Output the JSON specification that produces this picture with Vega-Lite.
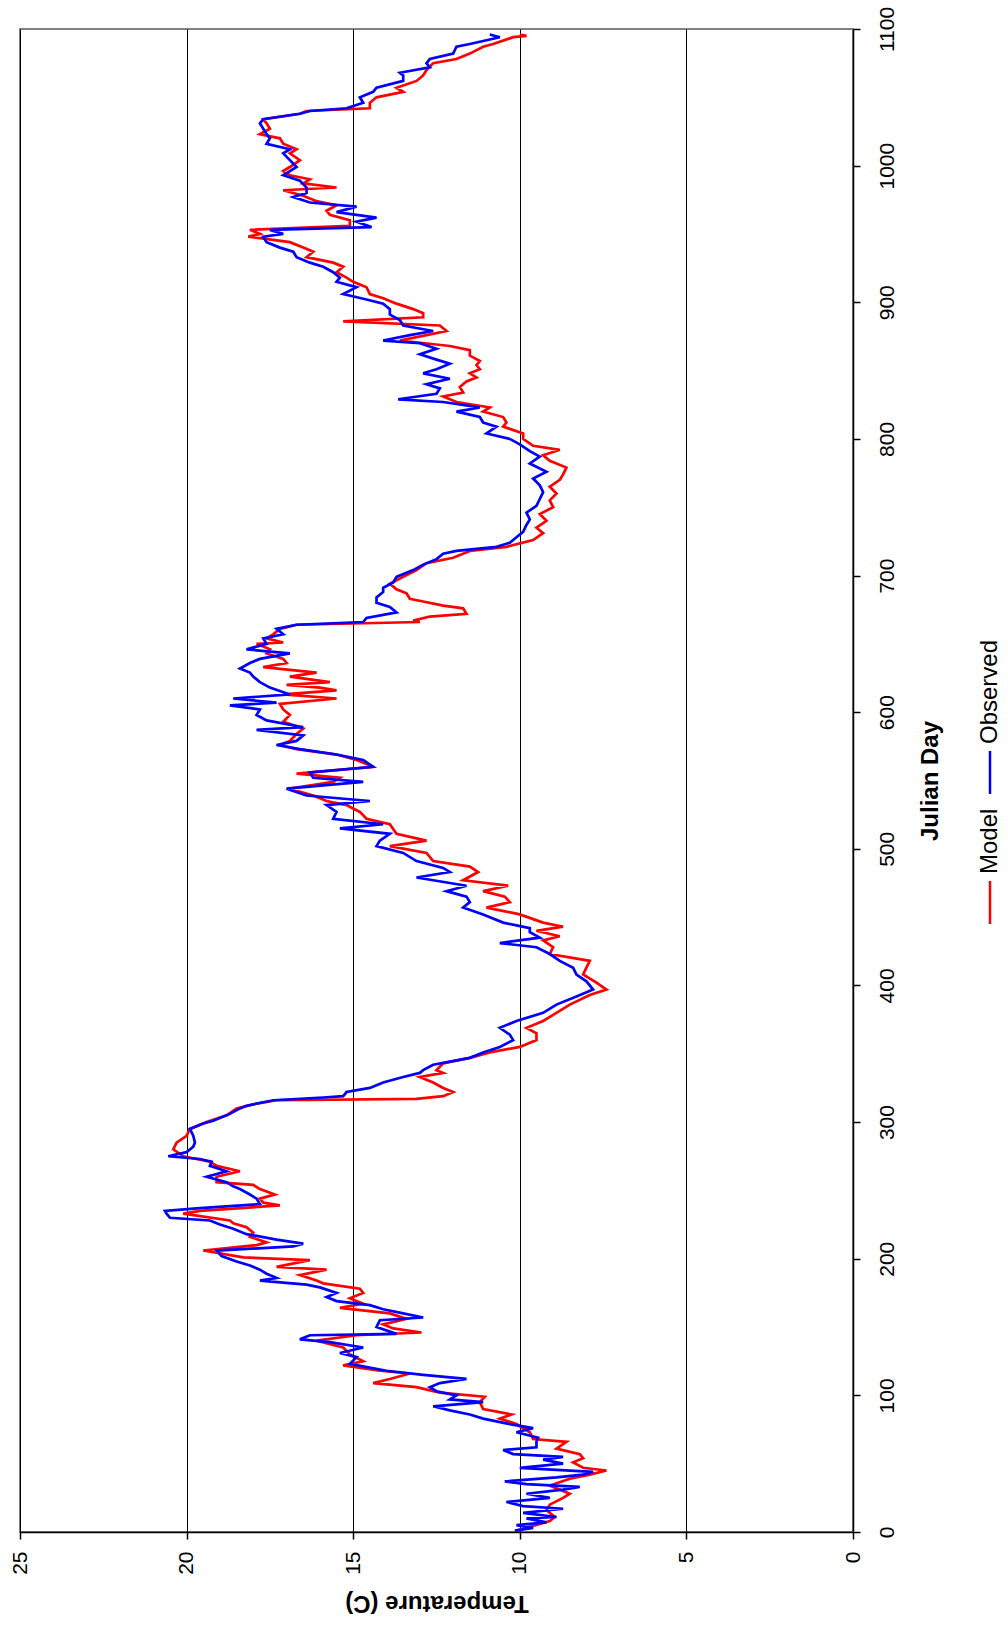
{
  "$schema": "https://vega.github.io/schema/vega-lite/v6.json",
  "padding": {"left": 8, "top": 5, "right": 0, "bottom": 0},
  "bounds": "flush",
  "spacing": 122,
  "config": {
    "font": "Liberation Sans",
    "view": {"stroke": "#808080", "strokeWidth": 2},
    "axis": {"labelColor": "#000000", "titleColor": "#000000", "domainColor": "#000000", "tickColor": "#000000", "labelOverlap": false}
  },
  "hconcat": [
    {
      "width": 833,
      "height": 1503,
      "data": {"values": [
        {"series":"Model","day":1,"temp":10.1},{"series":"Model","day":8,"temp":9.1},{"series":"Model","day":11,"temp":8.95},{"series":"Model","day":16,"temp":9.2},{"series":"Model","day":20,"temp":9.1},{"series":"Model","day":25,"temp":8.7},{"series":"Model","day":28,"temp":8.5},{"series":"Model","day":34,"temp":9.1},{"series":"Model","day":39,"temp":8.5},{"series":"Model","day":42,"temp":7.9},{"series":"Model","day":45,"temp":7.4},{"series":"Model","day":47,"temp":8.1},{"series":"Model","day":51,"temp":8.4},{"series":"Model","day":54,"temp":8.1},{"series":"Model","day":57,"temp":8.2},{"series":"Model","day":61,"temp":8.9},{"series":"Model","day":66,"temp":8.6},{"series":"Model","day":68,"temp":9.6},{"series":"Model","day":73,"temp":9.7},{"series":"Model","day":79,"temp":10.1},{"series":"Model","day":83,"temp":10.6},{"series":"Model","day":86,"temp":10.25},{"series":"Model","day":90,"temp":11.1},{"series":"Model","day":95,"temp":11.2},{"series":"Model","day":99,"temp":11.05},{"series":"Model","day":102,"temp":12.4},{"series":"Model","day":106,"temp":13.1},{"series":"Model","day":109,"temp":14.4},{"series":"Model","day":112,"temp":13.9},{"series":"Model","day":116,"temp":13.3},{"series":"Model","day":118,"temp":14.2},{"series":"Model","day":122,"temp":15.3},{"series":"Model","day":125,"temp":14.7},{"series":"Model","day":130,"temp":15.1},{"series":"Model","day":135,"temp":15.3},{"series":"Model","day":140,"temp":16.1},{"series":"Model","day":144,"temp":14.9},{"series":"Model","day":146,"temp":12.95},{"series":"Model","day":149,"temp":13.8},{"series":"Model","day":152,"temp":14.1},{"series":"Model","day":156,"temp":13.4},{"series":"Model","day":160,"temp":13.9},{"series":"Model","day":164,"temp":15.4},{"series":"Model","day":167,"temp":14.7},{"series":"Model","day":171,"temp":15.1},{"series":"Model","day":175,"temp":14.7},{"series":"Model","day":178,"temp":14.8},{"series":"Model","day":182,"temp":15.9},{"series":"Model","day":184,"temp":16.1},{"series":"Model","day":188,"temp":16.6},{"series":"Model","day":192,"temp":15.8},{"series":"Model","day":194,"temp":17.3},{"series":"Model","day":199,"temp":16.3},{"series":"Model","day":201,"temp":18.3},{"series":"Model","day":206,"temp":19.5},{"series":"Model","day":210,"temp":17.9},{"series":"Model","day":212,"temp":17.6},{"series":"Model","day":216,"temp":18.1},{"series":"Model","day":219,"temp":18.0},{"series":"Model","day":223,"temp":18.2},{"series":"Model","day":226,"temp":18.6},{"series":"Model","day":228,"temp":18.7},{"series":"Model","day":233,"temp":20.1},{"series":"Model","day":235,"temp":19.6},{"series":"Model","day":239,"temp":17.2},{"series":"Model","day":241,"temp":17.7},{"series":"Model","day":244,"temp":17.8},{"series":"Model","day":247,"temp":17.35},{"series":"Model","day":251,"temp":17.8},{"series":"Model","day":254,"temp":18.0},{"series":"Model","day":256,"temp":19.1},{"series":"Model","day":260,"temp":19.1},{"series":"Model","day":264,"temp":18.4},{"series":"Model","day":268,"temp":19.1},{"series":"Model","day":271,"temp":19.3},{"series":"Model","day":275,"temp":20.1},{"series":"Model","day":280,"temp":20.4},{"series":"Model","day":285,"temp":20.3},{"series":"Model","day":290,"temp":20.0},{"series":"Model","day":295,"temp":19.9},{"series":"Model","day":300,"temp":19.4},{"series":"Model","day":305,"temp":18.8},{"series":"Model","day":310,"temp":18.5},{"series":"Model","day":313,"temp":18.0},{"series":"Model","day":316,"temp":17.3},{"series":"Model","day":317,"temp":13.1},{"series":"Model","day":319,"temp":12.3},{"series":"Model","day":322,"temp":12.0},{"series":"Model","day":325,"temp":12.3},{"series":"Model","day":329,"temp":12.6},{"series":"Model","day":333,"temp":13.0},{"series":"Model","day":336,"temp":12.3},{"series":"Model","day":338,"temp":12.5},{"series":"Model","day":343,"temp":12.3},{"series":"Model","day":347,"temp":11.5},{"series":"Model","day":351,"temp":10.9},{"series":"Model","day":355,"temp":10.0},{"series":"Model","day":360,"temp":9.5},{"series":"Model","day":365,"temp":9.5},{"series":"Model","day":369,"temp":9.8},{"series":"Model","day":374,"temp":9.3},{"series":"Model","day":380,"temp":8.9},{"series":"Model","day":386,"temp":8.5},{"series":"Model","day":393,"temp":7.9},{"series":"Model","day":397,"temp":7.4},{"series":"Model","day":402,"temp":7.7},{"series":"Model","day":408,"temp":8.1},{"series":"Model","day":413,"temp":8.0},{"series":"Model","day":418,"temp":7.9},{"series":"Model","day":423,"temp":9.1},{"series":"Model","day":428,"temp":9.0},{"series":"Model","day":433,"temp":9.3},{"series":"Model","day":436,"temp":8.8},{"series":"Model","day":440,"temp":9.5},{"series":"Model","day":443,"temp":8.7},{"series":"Model","day":446,"temp":9.3},{"series":"Model","day":452,"temp":10.0},{"series":"Model","day":457,"temp":11.0},{"series":"Model","day":461,"temp":10.3},{"series":"Model","day":465,"temp":10.45},{"series":"Model","day":469,"temp":11.1},{"series":"Model","day":473,"temp":10.35},{"series":"Model","day":477,"temp":11.7},{"series":"Model","day":483,"temp":11.25},{"series":"Model","day":487,"temp":11.5},{"series":"Model","day":491,"temp":12.6},{"series":"Model","day":497,"temp":12.8},{"series":"Model","day":502,"temp":13.9},{"series":"Model","day":506,"temp":12.8},{"series":"Model","day":511,"temp":13.7},{"series":"Model","day":518,"temp":13.9},{"series":"Model","day":522,"temp":14.6},{"series":"Model","day":527,"temp":14.8},{"series":"Model","day":532,"temp":15.2},{"series":"Model","day":535,"temp":15.8},{"series":"Model","day":539,"temp":16.2},{"series":"Model","day":544,"temp":16.9},{"series":"Model","day":549,"temp":15.6},{"series":"Model","day":552,"temp":15.4},{"series":"Model","day":555,"temp":16.7},{"series":"Model","day":560,"temp":14.4},{"series":"Model","day":565,"temp":14.9},{"series":"Model","day":569,"temp":15.5},{"series":"Model","day":573,"temp":16.7},{"series":"Model","day":576,"temp":17.2},{"series":"Model","day":579,"temp":16.9},{"series":"Model","day":584,"temp":16.7},{"series":"Model","day":588,"temp":16.5},{"series":"Model","day":593,"temp":17.1},{"series":"Model","day":598,"temp":16.9},{"series":"Model","day":602,"temp":17.1},{"series":"Model","day":606,"temp":17.2},{"series":"Model","day":610,"temp":15.5},{"series":"Model","day":613,"temp":17.1},{"series":"Model","day":616,"temp":15.5},{"series":"Model","day":618,"temp":16.0},{"series":"Model","day":620,"temp":17.0},{"series":"Model","day":622,"temp":15.7},{"series":"Model","day":626,"temp":16.9},{"series":"Model","day":629,"temp":16.1},{"series":"Model","day":633,"temp":17.7},{"series":"Model","day":636,"temp":17.0},{"series":"Model","day":639,"temp":17.1},{"series":"Model","day":643,"temp":17.6},{"series":"Model","day":646,"temp":17.5},{"series":"Model","day":650,"temp":17.9},{"series":"Model","day":651,"temp":17.1},{"series":"Model","day":654,"temp":17.6},{"series":"Model","day":657,"temp":17.4},{"series":"Model","day":661,"temp":17.2},{"series":"Model","day":664,"temp":16.7},{"series":"Model","day":666,"temp":13.0},{"series":"Model","day":667,"temp":13.2},{"series":"Model","day":670,"temp":12.7},{"series":"Model","day":672,"temp":11.6},{"series":"Model","day":676,"temp":11.7},{"series":"Model","day":678,"temp":12.3},{"series":"Model","day":681,"temp":12.9},{"series":"Model","day":683,"temp":13.3},{"series":"Model","day":687,"temp":13.4},{"series":"Model","day":690,"temp":13.7},{"series":"Model","day":694,"temp":13.9},{"series":"Model","day":699,"temp":13.5},{"series":"Model","day":704,"temp":13.1},{"series":"Model","day":709,"temp":12.8},{"series":"Model","day":713,"temp":12.0},{"series":"Model","day":718,"temp":11.5},{"series":"Model","day":721,"temp":10.4},{"series":"Model","day":726,"temp":9.6},{"series":"Model","day":731,"temp":9.3},{"series":"Model","day":735,"temp":9.5},{"series":"Model","day":740,"temp":9.2},{"series":"Model","day":745,"temp":9.4},{"series":"Model","day":750,"temp":9.0},{"series":"Model","day":755,"temp":9.1},{"series":"Model","day":760,"temp":8.9},{"series":"Model","day":765,"temp":9.1},{"series":"Model","day":770,"temp":8.8},{"series":"Model","day":774,"temp":8.7},{"series":"Model","day":779,"temp":8.6},{"series":"Model","day":784,"temp":9.1},{"series":"Model","day":788,"temp":9.3},{"series":"Model","day":792,"temp":8.8},{"series":"Model","day":795,"temp":9.6},{"series":"Model","day":800,"temp":9.9},{"series":"Model","day":804,"temp":9.9},{"series":"Model","day":809,"temp":10.5},{"series":"Model","day":812,"temp":10.4},{"series":"Model","day":816,"temp":10.5},{"series":"Model","day":820,"temp":11.1},{"series":"Model","day":823,"temp":10.9},{"series":"Model","day":827,"temp":11.9},{"series":"Model","day":831,"temp":12.3},{"series":"Model","day":834,"temp":11.7},{"series":"Model","day":838,"temp":11.8},{"series":"Model","day":842,"temp":11.6},{"series":"Model","day":845,"temp":11.3},{"series":"Model","day":848,"temp":11.5},{"series":"Model","day":851,"temp":11.2},{"series":"Model","day":854,"temp":11.3},{"series":"Model","day":857,"temp":11.2},{"series":"Model","day":861,"temp":11.5},{"series":"Model","day":865,"temp":11.5},{"series":"Model","day":868,"temp":12.1},{"series":"Model","day":872,"temp":13.6},{"series":"Model","day":876,"temp":12.8},{"series":"Model","day":879,"temp":12.2},{"series":"Model","day":883,"temp":12.4},{"series":"Model","day":886,"temp":15.3},{"series":"Model","day":889,"temp":12.9},{"series":"Model","day":892,"temp":12.9},{"series":"Model","day":895,"temp":13.2},{"series":"Model","day":899,"temp":13.7},{"series":"Model","day":903,"temp":14.1},{"series":"Model","day":906,"temp":14.5},{"series":"Model","day":911,"temp":14.6},{"series":"Model","day":915,"temp":15.0},{"series":"Model","day":918,"temp":15.2},{"series":"Model","day":922,"temp":15.5},{"series":"Model","day":926,"temp":15.3},{"series":"Model","day":929,"temp":15.6},{"series":"Model","day":933,"temp":16.4},{"series":"Model","day":937,"temp":16.2},{"series":"Model","day":940,"temp":16.5},{"series":"Model","day":944,"temp":16.9},{"series":"Model","day":948,"temp":18.15},{"series":"Model","day":950,"temp":17.8},{"series":"Model","day":953,"temp":18.1},{"series":"Model","day":956,"temp":15.1},{"series":"Model","day":960,"temp":15.1},{"series":"Model","day":964,"temp":15.7},{"series":"Model","day":967,"temp":15.8},{"series":"Model","day":971,"temp":15.5},{"series":"Model","day":974,"temp":16.1},{"series":"Model","day":978,"temp":16.5},{"series":"Model","day":982,"temp":17.1},{"series":"Model","day":984,"temp":15.5},{"series":"Model","day":987,"temp":16.5},{"series":"Model","day":990,"temp":16.3},{"series":"Model","day":993,"temp":16.9},{"series":"Model","day":996,"temp":17.1},{"series":"Model","day":999,"temp":16.9},{"series":"Model","day":1004,"temp":16.6},{"series":"Model","day":1009,"temp":16.9},{"series":"Model","day":1012,"temp":16.7},{"series":"Model","day":1016,"temp":17.1},{"series":"Model","day":1020,"temp":17.2},{"series":"Model","day":1023,"temp":17.8},{"series":"Model","day":1027,"temp":17.5},{"series":"Model","day":1031,"temp":17.6},{"series":"Model","day":1034,"temp":17.7},{"series":"Model","day":1038,"temp":16.6},{"series":"Model","day":1040,"temp":16.4},{"series":"Model","day":1042,"temp":14.5},{"series":"Model","day":1046,"temp":14.5},{"series":"Model","day":1050,"temp":14.3},{"series":"Model","day":1054,"temp":13.5},{"series":"Model","day":1057,"temp":13.7},{"series":"Model","day":1062,"temp":13.1},{"series":"Model","day":1066,"temp":12.9},{"series":"Model","day":1070,"temp":12.8},{"series":"Model","day":1075,"temp":12.6},{"series":"Model","day":1078,"temp":11.9},{"series":"Model","day":1082,"temp":11.5},{"series":"Model","day":1087,"temp":11.1},{"series":"Model","day":1089,"temp":10.8},{"series":"Model","day":1094,"temp":10.2},{"series":"Model","day":1095,"temp":9.8},{"series":"Model","day":1096,"temp":10.0},
        {"series":"Observed","day":1,"temp":10.15},{"series":"Observed","day":3,"temp":9.6},{"series":"Observed","day":5,"temp":10.1},{"series":"Observed","day":7,"temp":9.2},{"series":"Observed","day":10,"temp":9.8},{"series":"Observed","day":11,"temp":8.9},{"series":"Observed","day":14,"temp":9.9},{"series":"Observed","day":17,"temp":8.7},{"series":"Observed","day":19,"temp":9.9},{"series":"Observed","day":22,"temp":10.4},{"series":"Observed","day":25,"temp":9.1},{"series":"Observed","day":28,"temp":9.8},{"series":"Observed","day":31,"temp":8.7},{"series":"Observed","day":33,"temp":8.2},{"series":"Observed","day":35,"temp":9.8},{"series":"Observed","day":37,"temp":10.45},{"series":"Observed","day":40,"temp":8.9},{"series":"Observed","day":42,"temp":8.1},{"series":"Observed","day":44,"temp":7.8},{"series":"Observed","day":47,"temp":10.0},{"series":"Observed","day":50,"temp":8.7},{"series":"Observed","day":53,"temp":9.3},{"series":"Observed","day":55,"temp":8.7},{"series":"Observed","day":57,"temp":10.2},{"series":"Observed","day":60,"temp":10.5},{"series":"Observed","day":62,"temp":9.5},{"series":"Observed","day":66,"temp":9.5},{"series":"Observed","day":69,"temp":9.45},{"series":"Observed","day":73,"temp":10.1},{"series":"Observed","day":76,"temp":9.6},{"series":"Observed","day":79,"temp":10.3},{"series":"Observed","day":83,"temp":11.1},{"series":"Observed","day":86,"temp":11.5},{"series":"Observed","day":89,"temp":12.1},{"series":"Observed","day":92,"temp":12.6},{"series":"Observed","day":95,"temp":11.1},{"series":"Observed","day":97,"temp":12.1},{"series":"Observed","day":100,"temp":11.9},{"series":"Observed","day":103,"temp":12.5},{"series":"Observed","day":106,"temp":12.7},{"series":"Observed","day":109,"temp":12.4},{"series":"Observed","day":112,"temp":11.6},{"series":"Observed","day":115,"temp":12.9},{"series":"Observed","day":118,"temp":14.0},{"series":"Observed","day":123,"temp":15.1},{"series":"Observed","day":128,"temp":14.9},{"series":"Observed","day":131,"temp":15.4},{"series":"Observed","day":135,"temp":14.7},{"series":"Observed","day":139,"temp":15.7},{"series":"Observed","day":141,"temp":16.6},{"series":"Observed","day":144,"temp":16.3},{"series":"Observed","day":145,"temp":13.7},{"series":"Observed","day":150,"temp":14.3},{"series":"Observed","day":155,"temp":14.2},{"series":"Observed","day":157,"temp":12.9},{"series":"Observed","day":160,"temp":13.5},{"series":"Observed","day":163,"temp":14.1},{"series":"Observed","day":166,"temp":14.5},{"series":"Observed","day":169,"temp":15.5},{"series":"Observed","day":172,"temp":15.8},{"series":"Observed","day":175,"temp":15.5},{"series":"Observed","day":179,"temp":16.0},{"series":"Observed","day":181,"temp":16.4},{"series":"Observed","day":184,"temp":17.8},{"series":"Observed","day":186,"temp":17.3},{"series":"Observed","day":189,"temp":17.6},{"series":"Observed","day":192,"temp":17.8},{"series":"Observed","day":195,"temp":18.1},{"series":"Observed","day":198,"temp":18.5},{"series":"Observed","day":202,"temp":18.95},{"series":"Observed","day":206,"temp":19.1},{"series":"Observed","day":209,"temp":16.8},{"series":"Observed","day":211,"temp":16.5},{"series":"Observed","day":214,"temp":17.3},{"series":"Observed","day":218,"temp":18.2},{"series":"Observed","day":222,"temp":18.6},{"series":"Observed","day":225,"temp":19.0},{"series":"Observed","day":228,"temp":19.3},{"series":"Observed","day":230,"temp":20.5},{"series":"Observed","day":233,"temp":20.6},{"series":"Observed","day":235,"temp":20.65},{"series":"Observed","day":237,"temp":19.6},{"series":"Observed","day":240,"temp":17.8},{"series":"Observed","day":244,"temp":17.9},{"series":"Observed","day":247,"temp":18.1},{"series":"Observed","day":251,"temp":18.4},{"series":"Observed","day":253,"temp":18.6},{"series":"Observed","day":256,"temp":18.8},{"series":"Observed","day":260,"temp":19.4},{"series":"Observed","day":262,"temp":19.1},{"series":"Observed","day":264,"temp":18.8},{"series":"Observed","day":268,"temp":19.3},{"series":"Observed","day":271,"temp":19.25},{"series":"Observed","day":273,"temp":19.6},{"series":"Observed","day":275,"temp":20.55},{"series":"Observed","day":278,"temp":20.0},{"series":"Observed","day":282,"temp":19.8},{"series":"Observed","day":285,"temp":19.75},{"series":"Observed","day":290,"temp":19.8},{"series":"Observed","day":295,"temp":19.9},{"series":"Observed","day":299,"temp":19.5},{"series":"Observed","day":301,"temp":19.2},{"series":"Observed","day":306,"temp":18.7},{"series":"Observed","day":310,"temp":18.4},{"series":"Observed","day":312,"temp":18.2},{"series":"Observed","day":316,"temp":17.4},{"series":"Observed","day":318,"temp":15.9},{"series":"Observed","day":319,"temp":15.3},{"series":"Observed","day":322,"temp":15.2},{"series":"Observed","day":325,"temp":14.5},{"series":"Observed","day":329,"temp":14.1},{"series":"Observed","day":333,"temp":13.5},{"series":"Observed","day":336,"temp":13.0},{"series":"Observed","day":338,"temp":12.9},{"series":"Observed","day":342,"temp":12.6},{"series":"Observed","day":347,"temp":11.5},{"series":"Observed","day":351,"temp":11.1},{"series":"Observed","day":355,"temp":10.6},{"series":"Observed","day":360,"temp":10.2},{"series":"Observed","day":364,"temp":10.3},{"series":"Observed","day":369,"temp":10.6},{"series":"Observed","day":374,"temp":10.1},{"series":"Observed","day":380,"temp":9.3},{"series":"Observed","day":386,"temp":8.9},{"series":"Observed","day":392,"temp":8.3},{"series":"Observed","day":397,"temp":7.8},{"series":"Observed","day":403,"temp":8.0},{"series":"Observed","day":408,"temp":8.3},{"series":"Observed","day":413,"temp":8.4},{"series":"Observed","day":418,"temp":8.8},{"series":"Observed","day":423,"temp":9.1},{"series":"Observed","day":428,"temp":9.5},{"series":"Observed","day":431,"temp":10.6},{"series":"Observed","day":435,"temp":9.4},{"series":"Observed","day":439,"temp":9.7},{"series":"Observed","day":442,"temp":9.7},{"series":"Observed","day":446,"temp":10.5},{"series":"Observed","day":452,"temp":11.1},{"series":"Observed","day":457,"temp":11.7},{"series":"Observed","day":461,"temp":11.5},{"series":"Observed","day":465,"temp":11.6},{"series":"Observed","day":469,"temp":12.2},{"series":"Observed","day":473,"temp":11.6},{"series":"Observed","day":477,"temp":12.6},{"series":"Observed","day":479,"temp":13.1},{"series":"Observed","day":483,"temp":12.1},{"series":"Observed","day":486,"temp":12.3},{"series":"Observed","day":491,"temp":13.1},{"series":"Observed","day":497,"temp":13.5},{"series":"Observed","day":502,"temp":14.3},{"series":"Observed","day":506,"temp":14.2},{"series":"Observed","day":511,"temp":13.9},{"series":"Observed","day":515,"temp":15.4},{"series":"Observed","day":518,"temp":14.1},{"series":"Observed","day":522,"temp":15.6},{"series":"Observed","day":527,"temp":15.5},{"series":"Observed","day":532,"temp":15.8},{"series":"Observed","day":535,"temp":14.5},{"series":"Observed","day":539,"temp":16.4},{"series":"Observed","day":544,"temp":17.0},{"series":"Observed","day":549,"temp":14.7},{"series":"Observed","day":552,"temp":16.2},{"series":"Observed","day":556,"temp":16.3},{"series":"Observed","day":560,"temp":14.4},{"series":"Observed","day":565,"temp":14.7},{"series":"Observed","day":569,"temp":15.5},{"series":"Observed","day":573,"temp":16.6},{"series":"Observed","day":576,"temp":17.3},{"series":"Observed","day":579,"temp":16.7},{"series":"Observed","day":583,"temp":16.5},{"series":"Observed","day":587,"temp":17.9},{"series":"Observed","day":589,"temp":16.5},{"series":"Observed","day":594,"temp":17.6},{"series":"Observed","day":598,"temp":17.9},{"series":"Observed","day":602,"temp":17.8},{"series":"Observed","day":605,"temp":18.7},{"series":"Observed","day":607,"temp":17.3},{"series":"Observed","day":610,"temp":18.6},{"series":"Observed","day":613,"temp":16.9},{"series":"Observed","day":618,"temp":17.5},{"series":"Observed","day":622,"temp":17.8},{"series":"Observed","day":626,"temp":18.0},{"series":"Observed","day":629,"temp":18.1},{"series":"Observed","day":632,"temp":18.4},{"series":"Observed","day":636,"temp":18.1},{"series":"Observed","day":639,"temp":17.8},{"series":"Observed","day":643,"temp":16.9},{"series":"Observed","day":646,"temp":18.2},{"series":"Observed","day":650,"temp":17.6},{"series":"Observed","day":654,"temp":17.7},{"series":"Observed","day":657,"temp":17.1},{"series":"Observed","day":661,"temp":17.3},{"series":"Observed","day":664,"temp":16.7},{"series":"Observed","day":666,"temp":14.7},{"series":"Observed","day":669,"temp":14.6},{"series":"Observed","day":673,"temp":13.7},{"series":"Observed","day":677,"temp":13.9},{"series":"Observed","day":680,"temp":14.3},{"series":"Observed","day":684,"temp":14.3},{"series":"Observed","day":688,"temp":14.1},{"series":"Observed","day":691,"temp":14.1},{"series":"Observed","day":695,"temp":13.8},{"series":"Observed","day":699,"temp":13.7},{"series":"Observed","day":704,"temp":13.2},{"series":"Observed","day":708,"temp":12.9},{"series":"Observed","day":712,"temp":12.5},{"series":"Observed","day":716,"temp":12.3},{"series":"Observed","day":718,"temp":11.9},{"series":"Observed","day":721,"temp":10.7},{"series":"Observed","day":724,"temp":10.3},{"series":"Observed","day":728,"temp":10.1},{"series":"Observed","day":732,"temp":9.9},{"series":"Observed","day":737,"temp":9.8},{"series":"Observed","day":741,"temp":9.7},{"series":"Observed","day":746,"temp":9.8},{"series":"Observed","day":751,"temp":9.5},{"series":"Observed","day":756,"temp":9.4},{"series":"Observed","day":761,"temp":9.3},{"series":"Observed","day":766,"temp":9.4},{"series":"Observed","day":771,"temp":9.6},{"series":"Observed","day":776,"temp":9.2},{"series":"Observed","day":782,"temp":9.7},{"series":"Observed","day":787,"temp":9.4},{"series":"Observed","day":791,"temp":9.7},{"series":"Observed","day":796,"temp":10.0},{"series":"Observed","day":800,"temp":10.3},{"series":"Observed","day":804,"temp":11.0},{"series":"Observed","day":809,"temp":10.7},{"series":"Observed","day":812,"temp":11.1},{"series":"Observed","day":816,"temp":11.2},{"series":"Observed","day":820,"temp":11.9},{"series":"Observed","day":823,"temp":11.2},{"series":"Observed","day":827,"temp":12.3},{"series":"Observed","day":829,"temp":13.65},{"series":"Observed","day":833,"temp":12.5},{"series":"Observed","day":837,"temp":12.4},{"series":"Observed","day":840,"temp":12.8},{"series":"Observed","day":844,"temp":12.1},{"series":"Observed","day":848,"temp":12.9},{"series":"Observed","day":851,"temp":12.5},{"series":"Observed","day":855,"temp":12.1},{"series":"Observed","day":858,"temp":12.5},{"series":"Observed","day":862,"temp":13.0},{"series":"Observed","day":866,"temp":12.5},{"series":"Observed","day":870,"temp":13.0},{"series":"Observed","day":872,"temp":14.1},{"series":"Observed","day":876,"temp":13.3},{"series":"Observed","day":879,"temp":12.6},{"series":"Observed","day":883,"temp":13.5},{"series":"Observed","day":887,"temp":13.6},{"series":"Observed","day":891,"temp":13.9},{"series":"Observed","day":895,"temp":13.9},{"series":"Observed","day":899,"temp":14.1},{"series":"Observed","day":902,"temp":14.6},{"series":"Observed","day":906,"temp":15.3},{"series":"Observed","day":911,"temp":14.9},{"series":"Observed","day":915,"temp":15.5},{"series":"Observed","day":918,"temp":15.4},{"series":"Observed","day":922,"temp":15.6},{"series":"Observed","day":926,"temp":15.9},{"series":"Observed","day":929,"temp":16.3},{"series":"Observed","day":933,"temp":16.7},{"series":"Observed","day":937,"temp":16.8},{"series":"Observed","day":940,"temp":17.2},{"series":"Observed","day":944,"temp":17.6},{"series":"Observed","day":948,"temp":17.7},{"series":"Observed","day":950,"temp":17.1},{"series":"Observed","day":953,"temp":17.5},{"series":"Observed","day":955,"temp":14.45},{"series":"Observed","day":959,"temp":14.9},{"series":"Observed","day":962,"temp":14.3},{"series":"Observed","day":966,"temp":15.5},{"series":"Observed","day":970,"temp":14.9},{"series":"Observed","day":973,"temp":16.3},{"series":"Observed","day":977,"temp":16.8},{"series":"Observed","day":980,"temp":16.4},{"series":"Observed","day":984,"temp":16.4},{"series":"Observed","day":989,"temp":16.6},{"series":"Observed","day":993,"temp":17.1},{"series":"Observed","day":996,"temp":16.9},{"series":"Observed","day":999,"temp":16.7},{"series":"Observed","day":1004,"temp":16.9},{"series":"Observed","day":1009,"temp":17.1},{"series":"Observed","day":1012,"temp":16.9},{"series":"Observed","day":1016,"temp":17.6},{"series":"Observed","day":1020,"temp":17.5},{"series":"Observed","day":1023,"temp":17.6},{"series":"Observed","day":1027,"temp":17.7},{"series":"Observed","day":1031,"temp":17.8},{"series":"Observed","day":1034,"temp":17.7},{"series":"Observed","day":1038,"temp":16.6},{"series":"Observed","day":1040,"temp":16.3},{"series":"Observed","day":1042,"temp":15.2},{"series":"Observed","day":1046,"temp":14.7},{"series":"Observed","day":1050,"temp":14.8},{"series":"Observed","day":1054,"temp":14.4},{"series":"Observed","day":1057,"temp":14.3},{"series":"Observed","day":1062,"temp":13.5},{"series":"Observed","day":1066,"temp":13.5},{"series":"Observed","day":1068,"temp":13.6},{"series":"Observed","day":1072,"temp":12.7},{"series":"Observed","day":1075,"temp":12.8},{"series":"Observed","day":1078,"temp":12.7},{"series":"Observed","day":1082,"temp":12.0},{"series":"Observed","day":1087,"temp":11.9},{"series":"Observed","day":1089,"temp":11.5},{"series":"Observed","day":1094,"temp":10.6},{"series":"Observed","day":1096,"temp":10.9}
      ]},
      "encoding": {
        "x": {"field": "temp", "type": "quantitative",
          "scale": {"domain": [0, 25], "reverse": true, "nice": false, "zero": false},
          "axis": {"orient": "bottom", "values": [0, 5, 10, 15, 20, 25], "grid": true, "gridColor": "#000000", "gridWidth": 1, "gridOpacity": 1,
            "domainWidth": 1.5, "tickSize": 7, "tickWidth": 1.5, "labelAngle": 270, "labelAlign": "right", "labelBaseline": "middle",
            "labelFontSize": 21, "labelPadding": 12, "title": "Temperature (C)", "titleAngle": 180, "titleBaseline": "bottom",
            "titleFontSize": 24, "titleFontWeight": "bold", "titlePadding": 16}},
        "y": {"field": "day", "type": "quantitative",
          "scale": {"domain": [0, 1100], "nice": false, "zero": false},
          "axis": {"orient": "right", "values": [0, 100, 200, 300, 400, 500, 600, 700, 800, 900, 1000, 1100], "format": "d", "grid": false,
            "domainWidth": 1.5, "tickSize": 7, "tickWidth": 1.5, "labelAngle": 270, "labelAlign": "center", "labelBaseline": "top",
            "labelFontSize": 21, "labelPadding": 16, "title": "Julian Day", "titleAngle": 270, "titleBaseline": "top",
            "titleFontSize": 24, "titleFontWeight": "bold", "titlePadding": 21}},
        "color": {"field": "series", "type": "nominal", "scale": {"domain": ["Model", "Observed"], "range": ["#FF0000", "#0000FF"]}, "legend": null},
        "order": {"field": "day", "type": "quantitative"}
      },
      "layer": [
        {"transform": [{"filter": "datum.series === 'Model'"}], "mark": {"type": "line", "strokeWidth": 2.7}},
        {"transform": [{"filter": "datum.series === 'Observed'"}], "mark": {"type": "line", "strokeWidth": 2.7}}
      ]
    },
    {
      "width": 30,
      "height": 1503,
      "view": {"stroke": null},
      "data": {"values": [{"series": "Model"}, {"series": "Observed"}]},
      "encoding": {
        "y": {"field": "series", "type": "nominal", "scale": {"type": "point", "domain": ["Observed", "Model"], "range": [765, 895], "padding": 0}, "axis": null}
      },
      "layer": [
        {"mark": {"type": "point", "shape": "stroke", "angle": 90, "size": 1849, "strokeWidth": 2.5, "filled": false, "opacity": 1, "yOffset": -21.5},
         "encoding": {"color": {"field": "series", "type": "nominal", "scale": {"domain": ["Model", "Observed"], "range": ["#FF0000", "#0000FF"]}, "legend": null}}},
        {"mark": {"type": "text", "angle": 270, "align": "left", "baseline": "middle", "fontSize": 24, "yOffset": -50, "color": "#000000"},
         "encoding": {"text": {"field": "series"}}}
      ]
    }
  ]
}
